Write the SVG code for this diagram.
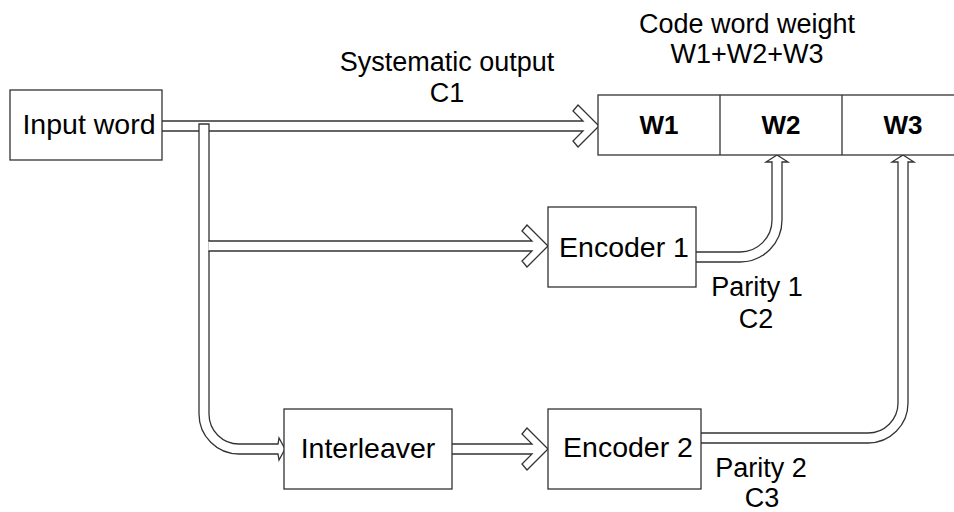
<svg xmlns="http://www.w3.org/2000/svg" width="954" height="512" viewBox="0 0 954 512">
<style>
.box{fill:#fff;stroke:#333;stroke-width:1.3}
.arr{fill:#fff;stroke:#333;stroke-width:1.3;stroke-linejoin:miter}
text{font-family:"Liberation Sans",Arial,sans-serif;font-size:27px;fill:#000;text-anchor:middle}
.n{font-size:28.5px}
.b{font-weight:bold;font-size:26px}
</style>
<rect width="954" height="512" fill="#fff"/>
<g id="connectors">
<path class="arr" d="M162,121 H583 L573,111 L578,105 L599,126 L578,147 L573,141 L583,131 H162"/>
<path class="arr" d="M199,124 H209 V414 A30,30 0 0 0 239,444 H278 L279,438 L285,449 L279,460 L278,454 H239 A40,40 0 0 1 199,414 Z"/>
<path class="arr" d="M208.4,241 H532 L522,231 L527,225 L548,246 L527,267 L522,261 L532,251 H208.4"/>
<path class="arr" d="M452,444 H532 L522,434 L527,428 L548,449 L527,470 L522,464 L532,454 H452"/>
<path class="arr" d="M696,252 H740 A32,32 0 0 0 772,220 V162 H766 L777,155 L788,162 H782 V220 A42,42 0 0 1 740,262 H696"/>
<path class="arr" d="M701,433 H868 A30,30 0 0 0 898,403 V162 H892 L903,155 L914,162 H908 V403 A40,40 0 0 1 868,443 H701"/>
</g>
<g id="input">
<rect class="box" x="10" y="90" width="152" height="70"/>
<text class="n" x="89" y="134">Input word</text>
</g>
<g id="codeword">
<rect class="box" x="598" y="95" width="368" height="60"/>
<line x1="720" y1="95" x2="720" y2="155" stroke="#333" stroke-width="1.3"/>
<line x1="842" y1="95" x2="842" y2="155" stroke="#333" stroke-width="1.3"/>
<text class="b" x="659" y="134">W1</text>
<text class="b" x="781" y="134">W2</text>
<text class="b" x="903" y="134">W3</text>
</g>
<g id="encoder1">
<rect class="box" x="548" y="207" width="148" height="80"/>
<text class="n" x="624" y="257">Encoder 1</text>
</g>
<g id="interleaver">
<rect class="box" x="284" y="409" width="168" height="80"/>
<text class="n" x="368" y="458">Interleaver</text>
</g>
<g id="encoder2">
<rect class="box" x="548" y="409" width="153" height="80"/>
<text class="n" x="628" y="457">Encoder 2</text>
</g>
<g id="labels">
<text x="447" y="71">Systematic output</text>
<text x="447" y="102">C1</text>
<text x="747" y="33">Code word weight</text>
<text x="747" y="63">W1+W2+W3</text>
<text x="757" y="296">Parity 1</text>
<text x="756" y="328">C2</text>
<text x="761" y="477">Parity 2</text>
<text x="762" y="507">C3</text>
</g>
</svg>
